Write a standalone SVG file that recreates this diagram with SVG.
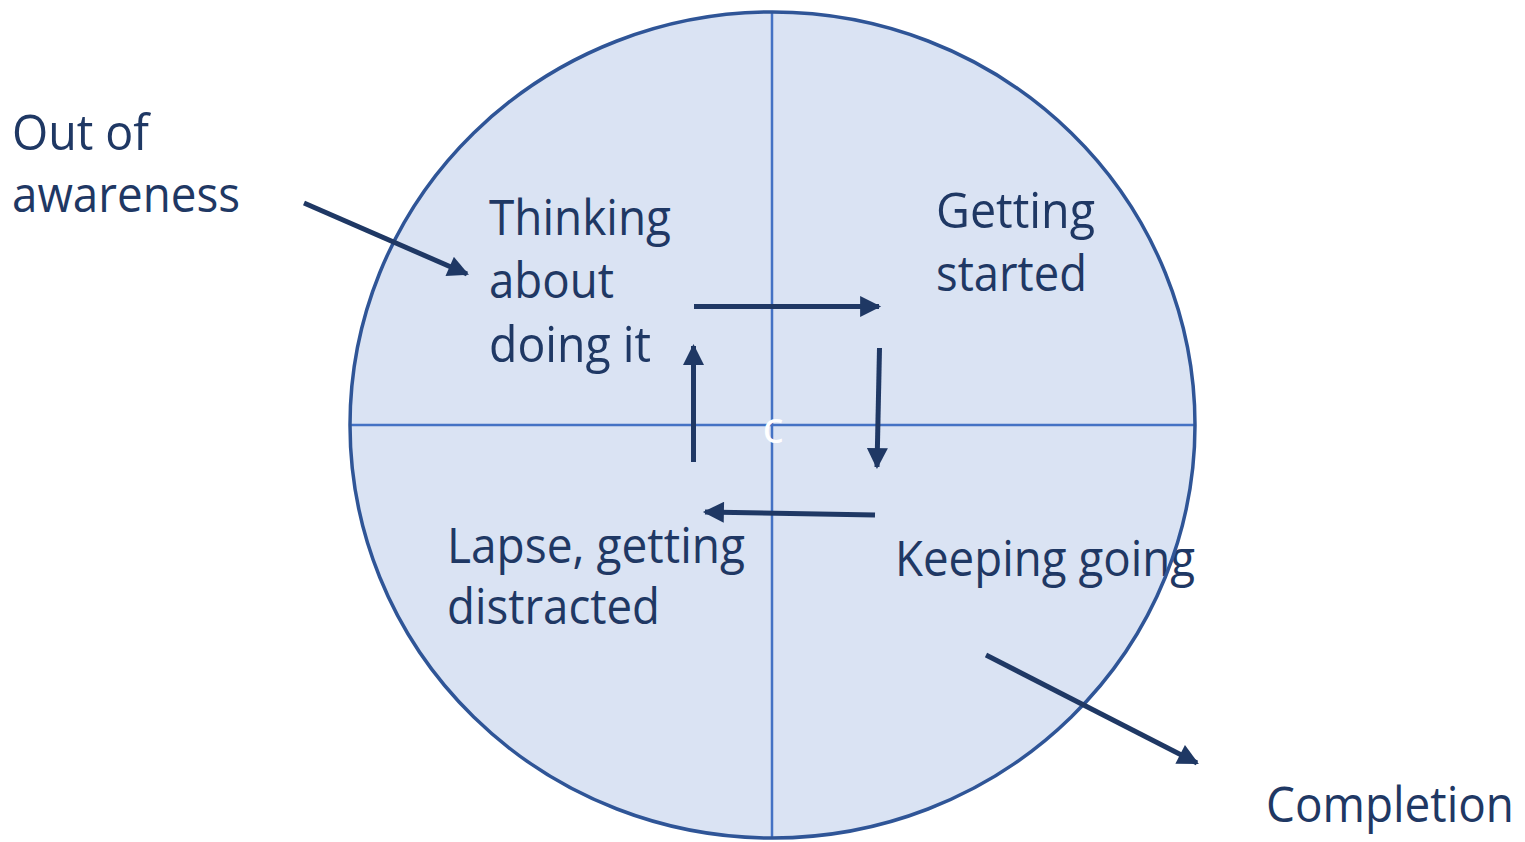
<svg xmlns="http://www.w3.org/2000/svg" width="1525" height="842" viewBox="0 0 1525 842">
  <style>
    .lbl { font-family: "Open Sans", "Liberation Sans", sans-serif; font-size: 50px; fill: #1F3864; }
    .arrow { stroke: #1F3864; stroke-width: 5; fill: none; marker-end: url(#head); }
    .axis { stroke: #4472C4; stroke-width: 2.5; }
  </style>
  <defs>
    <marker id="head" viewBox="0 0 10 10" refX="9" refY="5" markerWidth="4.4" markerHeight="4.2" orient="auto" markerUnits="strokeWidth">
      <path d="M0,0 L10,5 L0,10 z" fill="#1F3864"/>
    </marker>
  </defs>

  <!-- cycle disc with quadrant axes -->
  <g id="cycle">
    <ellipse cx="772.5" cy="425" rx="422.5" ry="413" fill="#DAE3F3"/>
    <line class="axis" x1="772" y1="12" x2="772" y2="838"/>
    <line class="axis" x1="350" y1="425" x2="1195" y2="425"/>
    <text x="773" y="443" font-family="'Open Sans', sans-serif" font-size="44" fill="#FFFFFF" text-anchor="middle">c</text>
  </g>

  <g id="node-thinking">
    <text class="lbl" x="489" y="235" textLength="182" lengthAdjust="spacingAndGlyphs">Thinking</text>
    <text class="lbl" x="489" y="298" textLength="125" lengthAdjust="spacingAndGlyphs">about</text>
    <text class="lbl" x="489" y="362" textLength="162" lengthAdjust="spacingAndGlyphs">doing it</text>
  </g>
  <g id="node-getting-started">
    <text class="lbl" x="936" y="228" textLength="159" lengthAdjust="spacingAndGlyphs">Getting</text>
    <text class="lbl" x="936" y="291" textLength="151" lengthAdjust="spacingAndGlyphs">started</text>
  </g>
  <g id="node-keeping-going">
    <text class="lbl" x="895" y="576" textLength="300" lengthAdjust="spacingAndGlyphs">Keeping going</text>
  </g>
  <g id="node-lapse">
    <text class="lbl" x="447" y="563" textLength="298" lengthAdjust="spacingAndGlyphs">Lapse, getting</text>
    <text class="lbl" x="447" y="624" textLength="213" lengthAdjust="spacingAndGlyphs">distracted</text>
  </g>
  <g id="node-out-of-awareness">
    <text class="lbl" x="12" y="150" textLength="137" lengthAdjust="spacingAndGlyphs">Out of</text>
    <text class="lbl" x="12" y="212" textLength="228" lengthAdjust="spacingAndGlyphs">awareness</text>
  </g>
  <g id="node-completion">
    <text class="lbl" x="1266" y="822" textLength="248" lengthAdjust="spacingAndGlyphs">Completion</text>
  </g>

  <!-- disc rim drawn above the labels -->
  <ellipse id="rim" cx="772.5" cy="425" rx="422.5" ry="413" fill="none" stroke="#2F5597" stroke-width="3.5"/>

  <g id="connectors">
    <line class="arrow" x1="304" y1="203" x2="467" y2="274"/>
    <line class="arrow" x1="694" y1="306.5" x2="879" y2="306.5"/>
    <line class="arrow" x1="879.5" y1="348" x2="877" y2="467"/>
    <line class="arrow" x1="875" y1="515" x2="705" y2="512"/>
    <line class="arrow" x1="693.5" y1="462" x2="693.5" y2="346"/>
    <line class="arrow" x1="986" y1="655" x2="1197" y2="763"/>
  </g>
</svg>
